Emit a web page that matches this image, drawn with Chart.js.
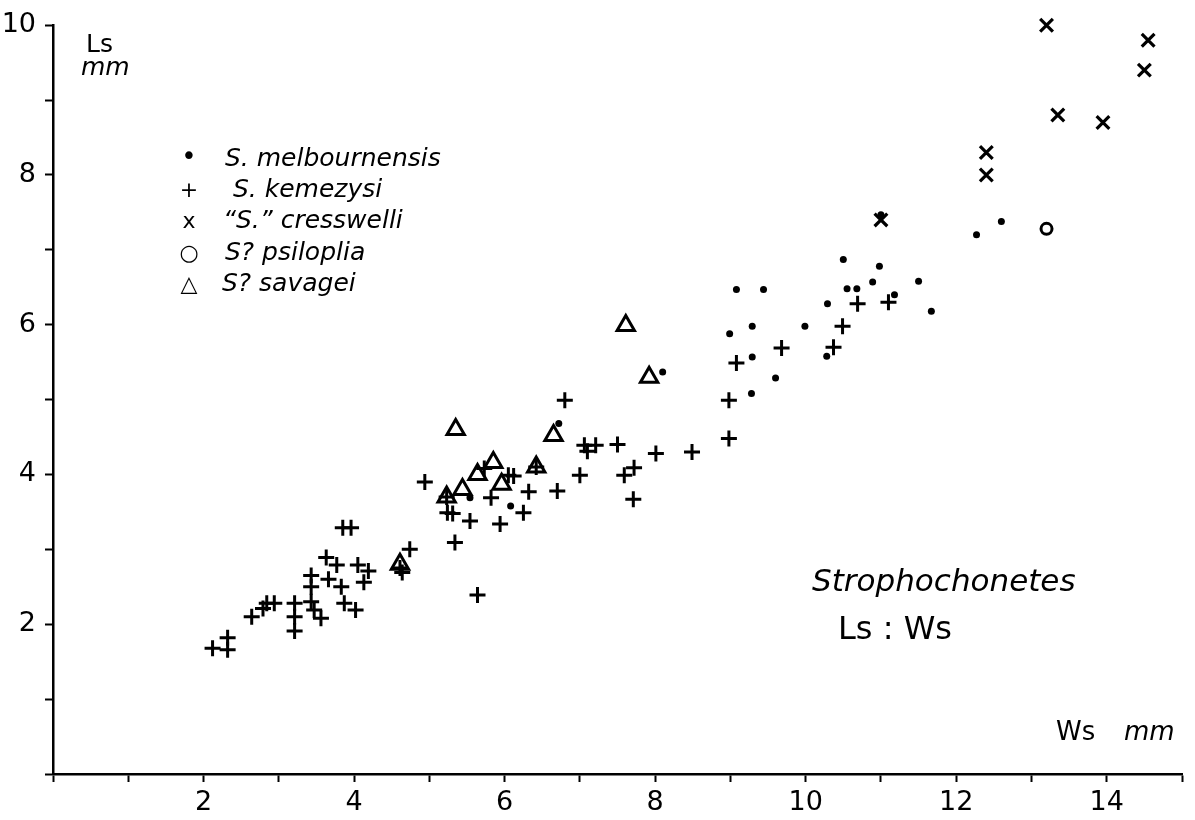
<!DOCTYPE html>
<html>
<head>
<meta charset="utf-8">
<script src="https://cdn.jsdelivr.net/npm/chart.js@4.4.1/dist/chart.umd.min.js"></script>
<style>
  html, body { margin: 0; padding: 0; background: #fff; }
  #wrap { width: 1195px; height: 820px; position: relative; }
</style>
</head>
<body>
<div id="wrap"><canvas id="c" width="1195" height="820"></canvas></div>
<script>
// ---- data (Ws, Ls in mm) ----
const melbournensisWs = [12.6, 12.27, 11.5, 11.67, 11.18, 10.5, 10.98, 9.08, 9.44, 10.55, 10.68, 10.89, 10.29, 8.99, 9.29, 9.99, 10.28, 9.29, 9.6, 9.28, 8.1, 6.72, 5.54, 6.08, 11.0];
const melbournensisLs = [7.38, 7.2, 6.58, 6.18, 6.4, 6.87, 6.78, 6.47, 6.47, 6.48, 6.48, 6.57, 6.28, 5.88, 5.98, 5.98, 5.58, 5.57, 5.29, 5.08, 5.37, 4.68, 3.69, 3.58, 7.47];

const kemezysiWs = [11.1, 10.69, 10.49, 9.68, 10.37, 9.08, 8.98, 8.98, 8.49, 6.8, 7.06, 7.21, 7.1, 7.5, 8.01, 7.72, 7.59, 7.71, 7.0, 6.7, 6.32, 6.25, 6.42, 5.73, 6.05, 6.12, 5.82, 4.94, 5.24, 5.31, 5.54, 5.94, 5.34, 5.64, 3.85, 3.96, 3.63, 3.77, 4.05, 4.19, 4.13, 4.64, 4.74, 3.43, 3.43, 3.43, 3.47, 3.66, 3.83, 3.87, 4.02, 3.56, 3.21, 3.21, 3.21, 2.84, 2.94, 2.79, 2.64, 2.32, 2.12, 2.32, 5.23, 4.61];
const kemezysiLs = [6.3, 6.28, 5.98, 5.69, 5.7, 5.49, 4.99, 4.48, 4.3, 4.99, 4.39, 4.39, 4.31, 4.4, 4.28, 4.09, 3.99, 3.67, 3.99, 3.78, 3.77, 3.49, 4.1, 4.08, 3.99, 3.98, 3.69, 3.9, 3.49, 3.48, 3.38, 3.34, 3.09, 2.39, 3.29, 3.29, 2.89, 2.79, 2.79, 2.71, 2.56, 2.69, 3.0, 2.65, 2.5, 2.3, 2.19, 2.6, 2.5, 2.28, 2.19, 2.08, 2.28, 2.1, 1.91, 2.28, 2.28, 2.21, 2.1, 1.82, 1.68, 1.66, 3.7, 2.75];

const cresswelliWs = [13.2, 14.55, 14.5, 13.35, 13.95, 12.4, 12.4, 11.0];
const cresswelliLs = [10.0, 9.8, 9.4, 8.8, 8.7, 8.3, 8.0, 7.4];

const psilopliaWs = [13.2];
const psilopliaLs = [7.28];

const savageiWs = [7.61, 7.92, 6.65, 5.35, 6.42, 5.85, 5.64, 5.96, 5.44, 5.23, 4.61];
const savageiLs = [5.99, 5.3, 4.52, 4.6, 4.1, 4.16, 4.0, 3.87, 3.8, 3.7, 2.8];

const xTickValues = [2, 4, 6, 8, 10, 12, 14];
const yTickValues = [2, 4, 6, 8, 10];

const legendGlyphs = ['\u2022', '+', 'x', '\u25CB', '\u25B3'];
const legendLabels = ['S. melbournensis', 'S. kemezysi', '\u201CS.\u201D cresswelli', 'S? psiloplia', 'S? savagei'];

const pts = (xs, ys) => xs.map((x, i) => ({ x: x, y: ys[i] }));

const FONT = '"DejaVu Sans", sans-serif';

const textPlugin = {
  id: 'texts',
  afterDraw(chart) {
    const ctx = chart.ctx;
    ctx.save();
    ctx.fillStyle = '#000';
    ctx.textBaseline = 'alphabetic';
    ctx.textAlign = 'left';
    // axis titles
    ctx.font = '25px ' + FONT;
    ctx.fillText('Ls', 86, 52);
    ctx.font = 'italic 25px ' + FONT;
    ctx.fillText('mm', 81, 75);
    ctx.font = '26px ' + FONT;
    ctx.fillText('Ws', 1056, 740);
    ctx.font = 'italic 26px ' + FONT;
    ctx.fillText('mm', 1124, 740);
    // title
    ctx.font = 'italic 31px ' + FONT;
    ctx.fillText('Strophochonetes', 812, 591);
    ctx.font = '32px ' + FONT;
    ctx.fillText('Ls : Ws', 838, 639);
    // legend
    const baselines = [166, 197, 228, 260, 291];
    const textX = [225, 233, 223, 225, 222];
    for (let i = 0; i < legendLabels.length; i++) {
      ctx.textAlign = 'center';
      ctx.font = (i === 0 ? '26px ' : '22px ') + FONT;
      ctx.fillText(legendGlyphs[i], 189, baselines[i] - (i === 0 ? 1 : 0));
      ctx.textAlign = 'left';
      ctx.font = 'italic 25px ' + FONT;
      ctx.fillText(legendLabels[i], textX[i], baselines[i]);
    }
    ctx.restore();
  }
};

const axisCommon = {
  type: 'linear',
  grid: { drawOnChartArea: false, drawTicks: true, tickLength: 8, tickWidth: 2, tickColor: '#000' },
  border: { display: true, color: '#000', width: 2.5 }
};

new Chart(document.getElementById('c'), {
  type: 'scatter',
  data: {
    datasets: [
      { label: 'S. melbournensis', data: pts(melbournensisWs, melbournensisLs), pointStyle: 'circle', pointRadius: 3.5, pointBorderWidth: 0, backgroundColor: '#000', borderColor: '#000', clip: false },
      { label: 'S. kemezysi', data: pts(kemezysiWs, kemezysiLs), pointStyle: 'cross', pointRadius: 8, pointBorderWidth: 3, borderColor: '#000', backgroundColor: '#000', clip: false },
      { label: '"S." cresswelli', data: pts(cresswelliWs, cresswelliLs), pointStyle: 'crossRot', pointRadius: 9, pointBorderWidth: 3.2, borderColor: '#000', backgroundColor: '#000', clip: false },
      { label: 'S? psiloplia', data: pts(psilopliaWs, psilopliaLs), pointStyle: 'circle', pointRadius: 5.5, pointBorderWidth: 3, borderColor: '#000', backgroundColor: 'rgba(255,255,255,0)', clip: false },
      { label: 'S? savagei', data: pts(savageiWs, savageiLs), pointStyle: 'triangle', pointRadius: 10, pointBorderWidth: 3, borderColor: '#000', backgroundColor: 'rgba(255,255,255,0)', clip: false }
    ]
  },
  options: {
    responsive: false,
    animation: false,
    devicePixelRatio: 1,
    layout: { padding: { left: 0, top: 21, right: 1, bottom: 0 } },
    plugins: { legend: { display: false }, tooltip: { enabled: false } },
    scales: {
      x: Object.assign({}, axisCommon, {
        min: 0, max: 15,
        ticks: {
          stepSize: 1, autoSkip: false, maxRotation: 0, color: '#000', padding: 5,
          font: { family: FONT, size: 27 },
          callback: v => xTickValues.includes(v) ? String(v) : ''
        },
        afterFit: s => { s.height = 46; }
      }),
      y: Object.assign({}, axisCommon, {
        min: 0, max: 10,
        ticks: {
          stepSize: 1, autoSkip: false, color: '#000', padding: 9,
          font: { family: FONT, size: 27 },
          callback: v => yTickValues.includes(v) ? String(v) : ''
        },
        afterFit: s => { s.width = 53; }
      })
    }
  },
  plugins: [textPlugin]
});
</script>
</body>
</html>
